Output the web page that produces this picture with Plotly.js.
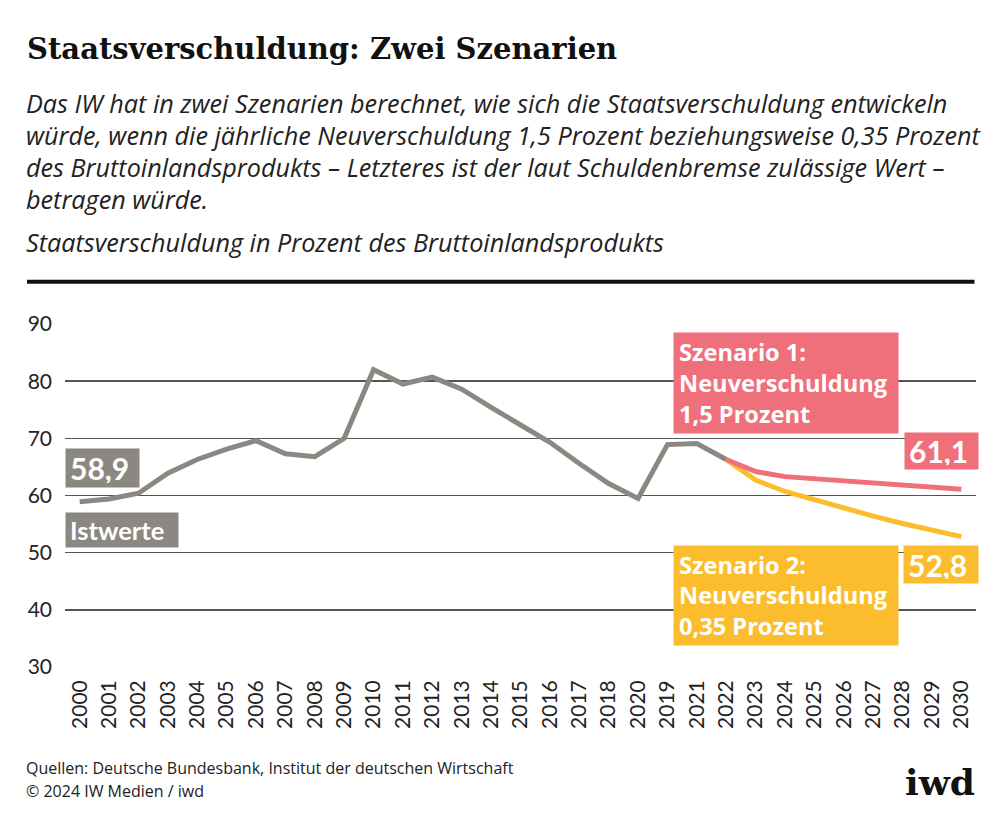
<!DOCTYPE html>
<html>
<head>
<meta charset="utf-8">
<script src="https://cdn.plot.ly/plotly-3.0.1.min.js"></script>
<style>
  html, body { margin: 0; padding: 0; background: #fff; }
  #chart { width: 1000px; height: 831px; }
</style>
</head>
<body>
<div id="chart"></div>
<script>
/* ---- data, read off the iwd graphic (Staatsverschuldung in % des BIP) ---- */
// x labels exactly as printed (the original swaps 2019 and 2020)
var YEARS = ["2000", "2001", "2002", "2003", "2004", "2005", "2006", "2007", "2008", "2009",
  "2010", "2011", "2012", "2013", "2014", "2015", "2016", "2017", "2018", "2020",
  "2019", "2021", "2022", "2023", "2024", "2025", "2026", "2027", "2028", "2029", "2030"];
var IST = [58.9, 59.4, 60.4, 63.9, 66.3, 68.1, 69.6, 67.3, 66.8, 70.0,
  82.0, 79.5, 80.7, 78.6, 75.4, 72.4, 69.3, 65.6, 62.1, 59.5,
  68.9, 69.1, 66.3];
var SZ1 = [66.3, 64.2, 63.3, 62.9, 62.5, 62.2, 61.8, 61.5, 61.1];   // 2022..2030
var SZ2 = [66.3, 62.7, 60.7, 59.2, 57.8, 56.4, 55.1, 54.0, 52.8];   // 2022..2030
var Y_TICKS = [30, 40, 50, 60, 70, 80, 90];

/* ---- palette ---- */
var GREY = "#8b8882";
var PINK = "#ef6f7a";
var YELLOW = "#fbbd2e";
var INK = "#1a1a1a";
var FONT = "Lato, 'Open Sans', sans-serif";
var WIDE = "'Open Sans', Lato, sans-serif";
var SLAB = "'DejaVu Serif', serif";

/* ---- page geometry (px) ---- */
var W = 1000, H = 831, L = 65, R = 23.5, T = 324.3, B = 164.3;
var PW = W - L - R, PH = H - T - B;
function px(x) { return (x - L) / PW; }
function py(y) { return (H - B - y) / PH; }
function fmt(v) { return v.toFixed(1).replace(".", ","); }

var istX = YEARS.slice(0, IST.length);
var szX = YEARS.slice(IST.length - 1);

var traces = [
  { type: "scatter", mode: "lines", x: istX, y: IST, line: { color: GREY, width: 5 }, hoverinfo: "skip" },
  { type: "scatter", mode: "lines", x: szX, y: SZ2, line: { color: YELLOW, width: 5 }, hoverinfo: "skip" },
  { type: "scatter", mode: "lines", x: szX, y: SZ1, line: { color: PINK, width: 5 }, hoverinfo: "skip" }
];

function text(x, y, t, size, opts) {
  opts = opts || {};
  return {
    xref: "paper", yref: "paper", x: px(x), y: py(y), text: t, showarrow: false,
    xanchor: opts.xanchor || "left", yanchor: opts.yanchor || "middle", align: "left",
    font: { family: opts.family || FONT, size: size, color: opts.color || INK }
  };
}

// label box: left/top/right/bottom in page px
function box(x0, y0, x1, y1, t, size, bg, padL, family) {
  return {
    xref: "paper", yref: "paper", x: px(x0), y: py(y0), xanchor: "left", yanchor: "top",
    text: t, showarrow: false, align: "left", valign: "middle",
    width: (x1 - x0) - 2 * padL, height: (y1 - y0) - 2 * padL, borderpad: padL,
    bgcolor: bg, font: { family: family || FONT, size: size, color: "#fff", weight: 700 }
  };
}

var sub = [
  "Das IW hat in zwei Szenarien berechnet, wie sich die Staatsverschuldung entwickeln",
  "würde, wenn die jährliche Neuverschuldung 1,5 Prozent beziehungsweise 0,35 Prozent",
  "des Bruttoinlandsprodukts – Letzteres ist der laut Schuldenbremse zulässige Wert –",
  "betragen würde."
];

var annotations = [
  text(25, 50, "<b>Staatsverschuldung: Zwei Szenarien</b>", 29, { family: SLAB, color: "#111" })
];
sub.forEach(function (s, i) {
  annotations.push(text(24, 104 + i * 32, "<i>" + s + "</i>", 25.2, { family: WIDE, color: "#222" }));
});
annotations.push(text(24, 242, "<i>Staatsverschuldung in Prozent des Bruttoinlandsprodukts</i>", 25.2, { family: WIDE, color: "#222" }));

annotations.push(box(65, 448, 138, 486, fmt(IST[0]), 30, GREY, 4));
annotations.push(box(65, 512, 177, 546, "Istwerte", 25.5, GREY, 4));
annotations.push(box(673, 332, 897, 432, "Szenario 1:<br>Neuverschuldung<br>1,5 Prozent", 23.6, PINK, 5, WIDE));
annotations.push(box(904, 432, 977, 468, fmt(SZ1[SZ1.length - 1]), 30, PINK, 4));
annotations.push(box(673, 545, 897, 644, "Szenario 2:<br>Neuverschuldung<br>0,35 Prozent", 23.6, YELLOW, 5, WIDE));
annotations.push(box(903, 545, 977, 582, fmt(SZ2[SZ2.length - 1]), 30, YELLOW, 4));

annotations.push(text(24, 768, "Quellen: Deutsche Bundesbank, Institut der deutschen Wirtschaft", 16, { family: WIDE, color: "#222" }));
annotations.push(text(24, 790, "© 2024 IW Medien / iwd", 16, { family: WIDE, color: "#222" }));
annotations.push(text(978, 781, "<b>iwd</b>", 36, { family: SLAB, xanchor: "right", color: "#111" }));

var layout = {
  width: W, height: H,
  paper_bgcolor: "#fff", plot_bgcolor: "#fff",
  margin: { l: L, r: R, t: T, b: B, pad: 0 },
  showlegend: false,
  font: { family: FONT, color: "#222" },
  xaxis: {
    type: "category", categoryorder: "array", categoryarray: YEARS,
    range: [-0.5, YEARS.length - 0.5], showgrid: false, zeroline: false, showline: false,
    tickangle: -90, tickfont: { size: 21, color: "#222" }, ticks: "", ticklabelstandoff: 8,
    fixedrange: true
  },
  yaxis: {
    range: [30, 90], tickvals: Y_TICKS, showgrid: true, gridcolor: "#555", gridwidth: 1.5,
    zeroline: false, showline: false, ticks: "", tickfont: { size: 21, color: "#222" },
    ticklabelstandoff: 12, fixedrange: true
  },
  shapes: [
    { type: "line", xref: "paper", yref: "paper", x0: px(27), x1: px(975), y0: py(282), y1: py(282),
      line: { color: "#111", width: 4 } }
  ],
  annotations: annotations
};

Plotly.newPlot("chart", traces, layout, { displayModeBar: false, staticPlot: true });
</script>
</body>
</html>
